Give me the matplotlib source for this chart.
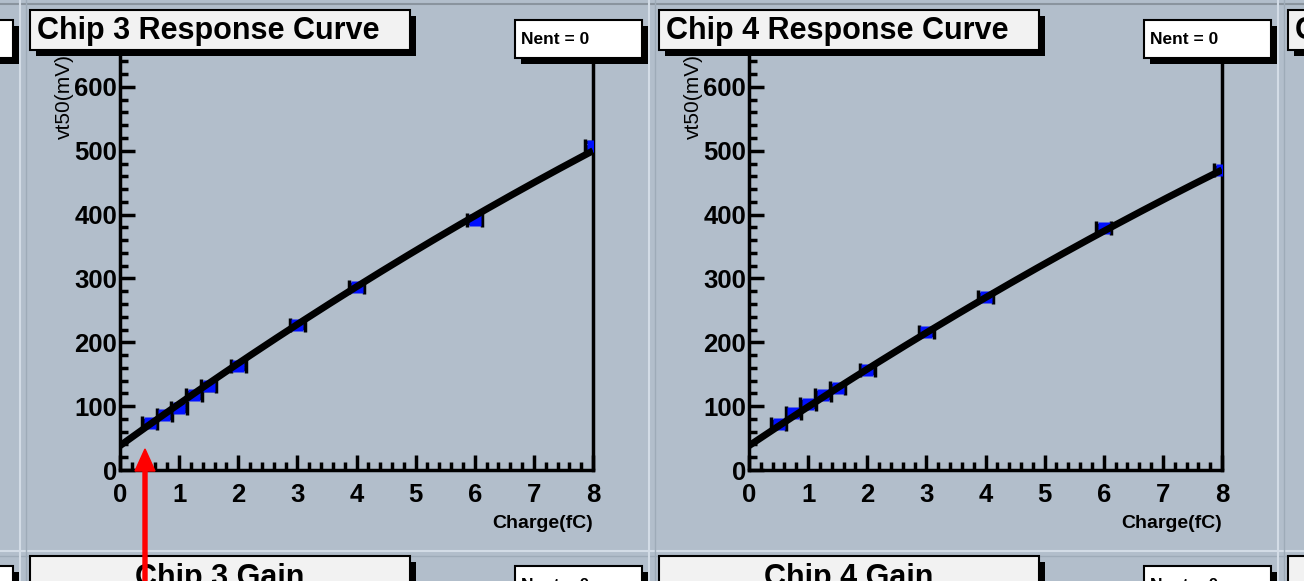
import numpy as np
import matplotlib.pyplot as plt
from matplotlib.patches import Rectangle, FancyArrow
from matplotlib.transforms import Affine2D
from matplotlib.ticker import MultipleLocator

# measured points: injected charge (fC) vs vt50 (mV)
charge = [0.5, 0.75, 1.0, 1.25, 1.5, 2.0, 3.0, 4.0, 6.0, 8.0]
chip3_vt50 = [74, 86, 97, 117, 131, 163, 227, 287, 392, 508]
chip4_vt50 = [72, 89, 103, 117, 128, 157, 216, 271, 379, 470]

# quadratic response fit parameters p0 + p1*q + p2*q^2
chip3_fit = [38.0, 66.75, -1.125]
chip4_fit = [38.0, 62.0, -1.0]

W, H = 1304, 581
BG = '#b2becb'
FONT = 'Liberation Sans'

fig = plt.figure(figsize=(W / 100, H / 100), dpi=100, facecolor=BG)
# pixel coordinates, origin top-left
px = Affine2D().scale(1 / W, -1 / H).translate(0, 1) + fig.transFigure

PAD_DX = 629


def box(x0, y0, x1, y1, shadow=6, fill='#f2f2f2', z=10):
    fig.add_artist(Rectangle((x0 + shadow, y0 + shadow), x1 - x0, y1 - y0,
                             transform=px, facecolor='black', edgecolor='none', zorder=z))
    fig.add_artist(Rectangle((x0, y0), x1 - x0, y1 - y0, transform=px,
                             facecolor=fill, edgecolor='black', lw=1.5, zorder=z + 1))


def pad_frame(dx):
    # pad borders
    fig.add_artist(plt.Line2D([20 + dx, 20 + dx], [0, H], transform=px, color='#d3dce6', lw=1.5, zorder=1))
    fig.add_artist(plt.Line2D([26 + dx, 26 + dx], [0, H], transform=px, color='#9eabb8', lw=1, zorder=1))


def header(dx, title, y_top, centered=False, nent=True):
    box(30 + dx, y_top, 410 + dx, y_top + 40)
    if title:
        if centered:
            fig.text(220 + dx, y_top + 22, title, transform=px, ha='center', va='center',
                     fontsize=22, fontweight='bold', family=FONT, zorder=20)
        else:
            fig.text(37 + dx, y_top + 21, title, transform=px, ha='left', va='center',
                     fontsize=22, fontweight='bold', family=FONT, zorder=20)
    box(515 + dx, y_top + 10, 642 + dx, y_top + 48, fill='white')
    if nent:
        fig.text(521 + dx, y_top + 30, 'Nent = 0', transform=px, ha='left', va='center',
                 fontsize=12.5, fontweight='bold', family=FONT, zorder=20)


def response_axes(dx, vt50, fit):
    left, right, top, bottom = 120 + dx, 593 + dx, 55, 470
    ax = fig.add_axes([left / W, 1 - bottom / H, (right - left) / W, (bottom - top) / H])
    ax.set_facecolor(BG)
    ax.errorbar(charge, vt50, xerr=0.13, yerr=5, fmt='none', ecolor='black',
                elinewidth=2, capsize=5, capthick=2.5, zorder=3)
    ax.plot(charge, vt50, 's', color='#0010ff', ms=8.5, mec='none', zorder=4)
    q = np.linspace(0, 8, 200)
    ax.plot(q, fit[0] + fit[1] * q + fit[2] * q ** 2, color='black', lw=5,
            solid_capstyle='butt', zorder=5)
    ax.set_xlim(0, 8)
    ax.set_ylim(0, 650)
    ax.xaxis.set_major_locator(MultipleLocator(1))
    ax.xaxis.set_minor_locator(MultipleLocator(0.2))
    ax.yaxis.set_major_locator(MultipleLocator(100))
    ax.yaxis.set_minor_locator(MultipleLocator(20))
    ax.tick_params(which='both', direction='in', width=2.5, top=False, right=False)
    ax.tick_params(which='major', length=11)
    ax.tick_params(which='minor', length=6)
    ax.tick_params(axis='y', pad=2)
    ax.tick_params(axis='x', pad=9)
    for lab in ax.get_xticklabels() + ax.get_yticklabels():
        lab.set_fontsize(18.5)
        lab.set_fontweight('bold')
        lab.set_family(FONT)
    ax.spines['top'].set_visible(False)
    for s in ('left', 'bottom', 'right'):
        ax.spines[s].set_linewidth(2.5)
    fig.text(right, 523, 'Charge(fC)', transform=px, ha='right', va='center',
             fontsize=14, fontweight='bold', family=FONT)
    fig.text(64 + dx, 54, 'vt50(mV)', transform=px, ha='center', va='top',
             rotation=90, fontsize=15, family=FONT, zorder=2)
    return ax


# canvas edges and row separator
fig.add_artist(plt.Line2D([0, W], [4, 4], transform=px, color='#8a949e', lw=1.5, zorder=1))
fig.add_artist(plt.Line2D([0, W], [551, 551], transform=px, color='#d3dce6', lw=1.5, zorder=1))
fig.add_artist(plt.Line2D([0, W], [556, 556], transform=px, color='#9eabb8', lw=1, zorder=1))

for k in range(-1, 3):
    pad_frame(k * PAD_DX)

response_axes(0, chip3_vt50, chip3_fit)
response_axes(PAD_DX, chip4_vt50, chip4_fit)

# neighbouring pads only show at the canvas edges
header(-PAD_DX, None, 10, nent=False)
header(0, 'Chip 3 Response Curve', 10)
header(PAD_DX, 'Chip 4 Response Curve', 10)
header(2 * PAD_DX, 'C', 10, nent=False)

header(-PAD_DX, None, 556, nent=False)
header(0, 'Chip 3 Gain', 556, centered=True)
header(PAD_DX, 'Chip 4 Gain', 556, centered=True)
header(2 * PAD_DX, None, 556, nent=False)

# red arrow pointing at the lowest charge point
fig.add_artist(FancyArrow(145, H + 5, 0, -(H + 5 - 449), width=4, head_width=20,
                          head_length=22, length_includes_head=True, transform=px,
                          color='#ff0000', zorder=30))

fig.savefig('out.png', dpi=100, facecolor=BG)
